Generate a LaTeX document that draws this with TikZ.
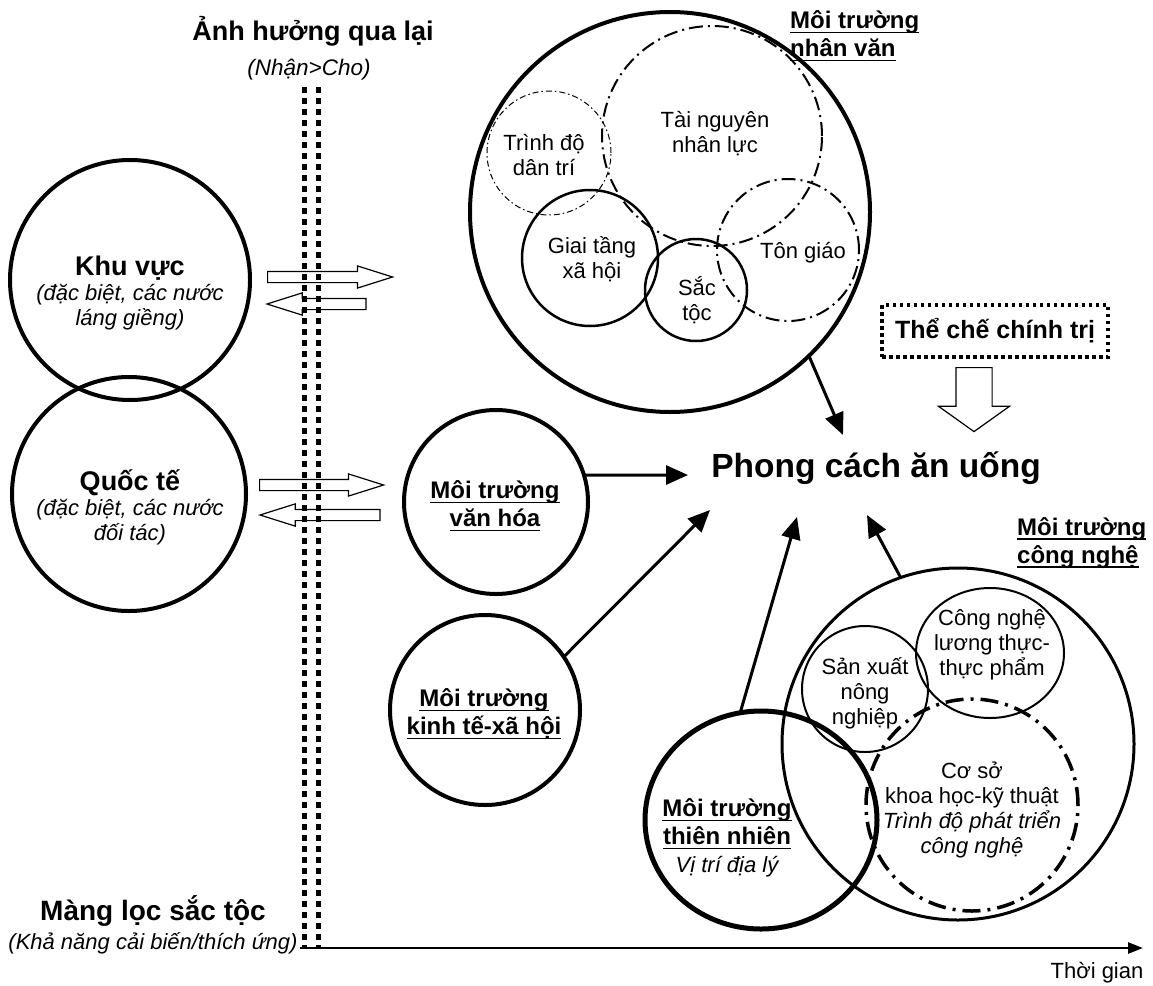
\documentclass[tikz,border=0pt]{standalone}
\usepackage{fontspec}
\setmainfont{Liberation Sans}
\usetikzlibrary{arrows.meta, shapes.arrows, shapes.geometric, positioning}

\newcommand{\undl}[1]{\setbox0=\hbox{#1}\rlap{\rule[-4.5pt]{\wd0}{1.6pt}}\box0}

\tikzset{
  ring/.style={circle, draw, inner sep=0pt, outer sep=0pt, minimum size=#1},
  dashdot/.style={dash pattern=on 14pt off 5pt on 2pt off 5pt},
  finedashdot/.style={dash pattern=on 6pt off 3pt on 1.5pt off 3pt},
  bigdashdot/.style={dash pattern=on 18pt off 7pt on 3pt off 7pt},
  influence/.style={line width=3pt, -{Triangle[length=22pt, width=19pt]}},
  hollow/.style={single arrow, draw, line width=1.2pt, inner sep=5pt,
    single arrow head extend=5.5pt, single arrow tip angle=35,
    single arrow head indent=0pt},
  filter/.style={line width=5pt, dash pattern=on 5.5pt off 5.5pt},
  txt/.style={font=\fontsize{22}{25}\selectfont, align=center, inner sep=0pt},
  envlabel/.style={font=\fontsize{24}{28}\selectfont\bfseries, align=center, inner sep=0pt},
}

\begin{document}
\begin{tikzpicture}[x=1pt, y=-1pt]
\useasboundingbox (0,0) rectangle (1153,985);

% filter and time axis
\coordinate (ftopL) at (304,87);
\coordinate (fbotL) at (304,948);
\coordinate (ftopR) at (318,87);
\coordinate (fbotR) at (318,948);
\draw[filter] (ftopL) -- (fbotL);
\draw[filter] (ftopR) -- (fbotR);
\coordinate (origin) at (300,948);
\coordinate (tend) at (1143,948);
\draw[line width=2.5pt, -{Triangle[length=15pt, width=11pt]}] (origin) -- (tend);
\node[font=\fontsize{22}{26}\selectfont] (time) at (1097,973) {Thời gian};

\node[font=\fontsize{27}{32}\selectfont\bfseries] (anhhuong) at (313,31) {Ảnh hưởng qua lại};
\node[font=\fontsize{22.5}{26}\selectfont\itshape] (nhancho) at (309,70) {(Nhận>Cho)};
\node[font=\fontsize{28}{32}\selectfont\bfseries] (mangloc) at (153,911) {Màng lọc sắc tộc};
\node[font=\fontsize{22}{26}\selectfont\itshape] (caibien) at (153,943) {(Khả năng cải biến/thích ứng)};

% outside influences
\node[ring=240pt, line width=4pt] (khuvuc) at (130,280) {};
\node[ring=234pt, line width=4pt] (quocte) at (129,494) {};
\node[txt] (khutxt) at (130,293) {{\fontsize{27}{30}\selectfont\bfseries Khu vực}\\ \textit{(đặc biệt, các nước}\\ \textit{láng giềng)}};
\node[txt] (quoctxt) at (130,507) {{\fontsize{27}{30}\selectfont\bfseries Quốc tế}\\ \textit{(đặc biệt, các nước}\\ \textit{đối tác)}};

\node[hollow, minimum height=125pt, anchor=tail] (khuout) at (267,277) {};
\node[hollow, minimum height=99pt, shape border rotate=180, anchor=tip] (khuin) at (265,304) {};
\node[hollow, minimum height=124pt, anchor=tail] (quocout) at (259,485) {};
\node[hollow, minimum height=120pt, shape border rotate=180, anchor=tip] (quocin) at (258,515) {};

% human environment
\node[ring=400pt, line width=4pt] (nhanvan) at (670,212) {};
\node[ring=124pt, line width=1pt, finedashdot] (trinhdo) at (549,153) {};
\node[ring=220pt, line width=2pt, dashdot] (tainguyen) at (712,136) {};
\node[ring=142pt, line width=2pt, dashdot] (tongiao) at (788,250) {};
\node[ring=136pt, line width=2.5pt] (giaitang) at (590,258) {};
\node[ring=102pt, line width=2.5pt] (sactoc) at (696,290) {};
\node[txt] (trinhdotxt) at (544,155) {Trình độ\\dân trí};
\node[txt] (tainguyentxt) at (715,134) {Tài nguyên\\nhân lực};
\node[txt] (giaitangtxt) at (592,259) {Giai tầng\\xã hội};
\node[txt] (sactoctxt) at (697,300) {Sắc\\tộc};
\node[txt] (tongiaotxt) at (803,253) {Tôn giáo};
\node[envlabel, align=left, anchor=west] (nvlabel) at (790,36) {\undl{Môi trường}\\\undl{nhân văn}};

% political system
\node[draw, line width=3.5pt, dash pattern=on 3.5pt off 3.5pt, minimum width=226pt,
  minimum height=52pt, font=\fontsize{25}{30}\selectfont\bfseries] (thche) at (995,331) {Thể chế chính trị};
\node[hollow, inner sep=17.5pt, single arrow head extend=17.5pt, single arrow tip angle=109,
  minimum height=64pt, shape border rotate=270, anchor=tail] (downarr) at (974,367) {};

\node[font=\fontsize{33.5}{38}\selectfont\bfseries] (phong) at (876,468) {Phong cách ăn uống};

% culture and socio-economy
\node[ring=184pt, line width=4pt] (vanhoa) at (496,502) {};
\node[envlabel] (vanhoatxt) at (495,506) {\undl{Môi trường}\\\undl{văn hóa}};
\node[ring=190pt, line width=4pt] (kinhte) at (485,710) {};
\node[envlabel] (kinhtetxt) at (484,714) {\undl{Môi trường}\\\undl{kinh tế-xã hội}};

% technology
\node[ring=352pt, line width=3pt] (congnghe) at (958,744) {};
\node[ring=126pt, line width=2pt] (sanxuat) at (865,689) {};
\node[ellipse, draw, line width=2pt, inner sep=0pt, outer sep=0pt, minimum width=148pt, minimum height=130pt] (cnlt) at (990,653) {};
\node[ring=212pt, line width=3.5pt, bigdashdot] (coso) at (972,805) {};
\node[txt] (sanxuattxt) at (865,693) {Sản xuất\\nông\\nghiệp};
\node[txt] (cnlttxt) at (992,645) {Công nghệ\\lương thực-\\thực phẩm};
\node[txt] (cosotxt) at (972,810) {Cơ sở\\khoa học-kỹ thuật\\\textit{Trình độ phát triển}\\\textit{công nghệ}};
\node[envlabel, align=left, anchor=west] (cnlabel) at (1017,543) {\undl{Môi trường}\\\undl{công nghệ}};

% nature
\node[ellipse, draw, line width=5pt, inner sep=0pt, outer sep=0pt, minimum width=232pt, minimum height=218pt] (thiennhien) at (761,820) {};
\node[envlabel] (thiennhientxt) at (727,838) {\undl{Môi trường}\\\undl{thiên nhiên}\\{\mdseries\itshape\fontsize{22}{25}\selectfont Vị trí địa lý}};

% influences on eating style
\draw[influence] (nhanvan.-46) -- ([shift={(-33,-33)}]phong.center);
\draw[influence] (vanhoa.17) -- ([shift={(-188,7)}]phong.center);
\draw[influence] (kinhte.34) -- ([shift={(-166,42)}]phong.center);
\draw[influence] (thiennhien.101) -- ([shift={(-79,49)}]phong.center);
\draw[influence] (congnghe.109) -- ([shift={(-9,47)}]phong.center);
\end{tikzpicture}
\end{document}
